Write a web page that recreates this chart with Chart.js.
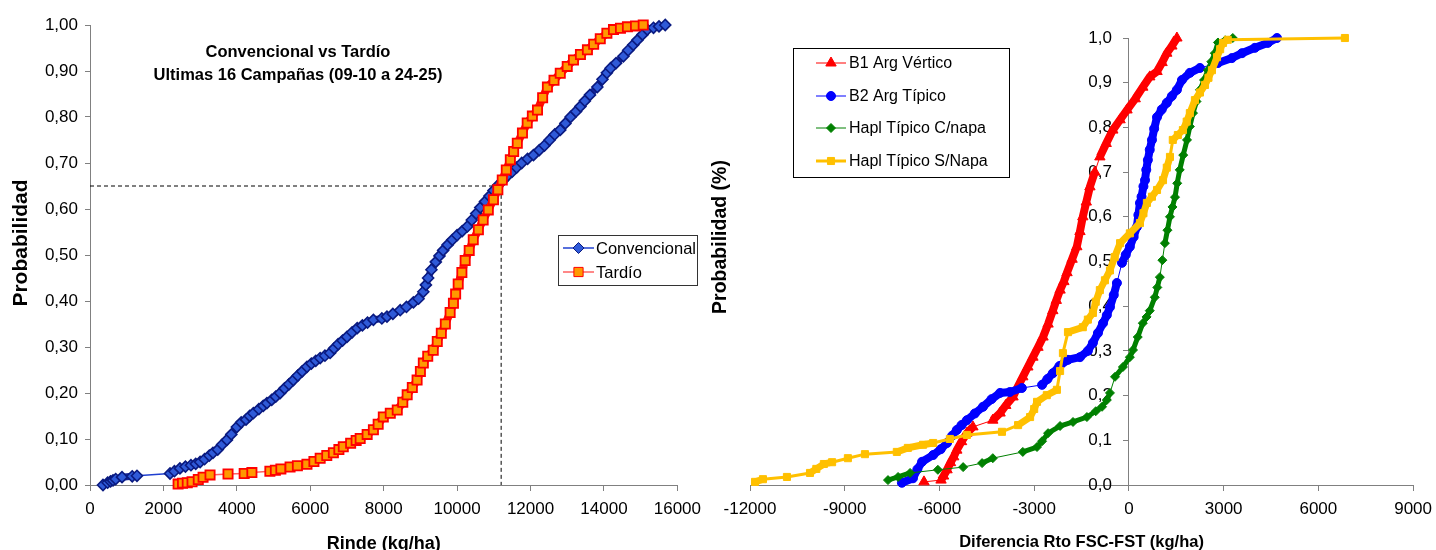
<!DOCTYPE html>
<html lang="es">
<head>
<meta charset="utf-8">
<title>Probabilidad acumulada de rinde</title>
<script src="https://cdn.jsdelivr.net/npm/chart.js@4.4.0/dist/chart.umd.min.js"></script>
<style>
  html, body { margin: 0; padding: 0; background: #fff; overflow: hidden; }
  canvas { position: absolute; top: 0; }
  #left { left: 0; }
  #right { left: 700px; }
</style>
</head>
<body>
<canvas id="left" width="709" height="560"></canvas>
<canvas id="right" width="740" height="560"></canvas>
<script>
// Left chart: rinde (kg/ha) vs probabilidad acumulada
const convencional = [
    [354, 0.000], [480, 0.005], [560, 0.008], [627, 0.010], [700, 0.013], [872, 0.017], [1150, 0.019], [1280, 0.020],
    [2180, 0.025], [2300, 0.030], [2450, 0.036], [2600, 0.040], [2750, 0.043], [2880, 0.046], [3000, 0.050], [3120, 0.056],
    [3250, 0.064], [3350, 0.070], [3480, 0.077], [3600, 0.088], [3730, 0.098], [3850, 0.110], [4000, 0.126], [4120, 0.136],
    [4250, 0.142], [4350, 0.150], [4450, 0.156], [4600, 0.165], [4720, 0.172], [4820, 0.178], [4950, 0.185], [5060, 0.192],
    [5180, 0.200], [5300, 0.210], [5420, 0.219], [5540, 0.228], [5660, 0.238], [5780, 0.247], [5910, 0.257], [6030, 0.264],
    [6150, 0.270], [6270, 0.276], [6400, 0.281], [6540, 0.287], [6650, 0.297], [6760, 0.306], [6880, 0.314], [7000, 0.322],
    [7140, 0.332], [7280, 0.341], [7420, 0.347], [7560, 0.353], [7720, 0.359], [7950, 0.362], [8090, 0.366], [8250, 0.372],
    [8450, 0.380], [8620, 0.387], [8810, 0.397], [8950, 0.405], [9080, 0.420], [9150, 0.435], [9210, 0.450], [9300, 0.468],
    [9420, 0.485], [9520, 0.498], [9620, 0.510], [9740, 0.522], [9870, 0.533], [10000, 0.543], [10140, 0.552], [10280, 0.562],
    [10400, 0.576], [10520, 0.590], [10630, 0.603], [10760, 0.616], [10880, 0.628], [10990, 0.640], [11120, 0.652], [11250, 0.662],
    [11370, 0.672], [11500, 0.681], [11620, 0.690], [11760, 0.700], [11920, 0.709], [12080, 0.717], [12240, 0.728], [12380, 0.738],
    [12520, 0.750], [12660, 0.762], [12810, 0.772], [12950, 0.786], [13090, 0.800], [13240, 0.812], [13360, 0.823], [13480, 0.835],
    [13620, 0.848], [13820, 0.865], [13960, 0.882], [14080, 0.896], [14180, 0.906], [14330, 0.917], [14530, 0.932], [14660, 0.945],
    [14800, 0.957], [14910, 0.967], [15050, 0.979], [15180, 0.990], [15350, 0.994], [15500, 0.997], [15670, 1.000]
];
const tardio = [
    [2400, 0.002], [2520, 0.004], [2650, 0.005], [2780, 0.007], [2950, 0.012], [3080, 0.017], [3270, 0.022], [3760, 0.024],
    [4200, 0.025], [4410, 0.027], [4900, 0.030], [5050, 0.032], [5200, 0.035], [5450, 0.039], [5650, 0.042], [5910, 0.045],
    [6100, 0.051], [6270, 0.058], [6450, 0.064], [6630, 0.070], [6780, 0.077], [6900, 0.083], [7100, 0.091], [7250, 0.097],
    [7360, 0.101], [7550, 0.110], [7720, 0.120], [7850, 0.132], [7990, 0.148], [8180, 0.156], [8370, 0.163], [8520, 0.180],
    [8640, 0.196], [8780, 0.212], [8910, 0.228], [9000, 0.247], [9080, 0.265], [9200, 0.280], [9350, 0.293], [9460, 0.312],
    [9570, 0.330], [9680, 0.350], [9810, 0.375], [9900, 0.395], [9960, 0.415], [10030, 0.437], [10130, 0.462], [10220, 0.488],
    [10330, 0.510], [10440, 0.533], [10580, 0.555], [10710, 0.576], [10850, 0.598], [10990, 0.620], [11110, 0.642], [11230, 0.663],
    [11340, 0.685], [11450, 0.707], [11540, 0.725], [11640, 0.743], [11780, 0.765], [11910, 0.787], [12050, 0.802], [12190, 0.815],
    [12330, 0.842], [12460, 0.865], [12640, 0.880], [12810, 0.895], [13000, 0.910], [13170, 0.924], [13360, 0.936], [13550, 0.946],
    [13720, 0.958], [13900, 0.970], [14080, 0.982], [14260, 0.990], [14450, 0.993], [14640, 0.996], [14860, 0.998], [15070, 1.000]
];
// dashed guide: 0,65 de probabilidad a ~11200 kg/ha
const corte = [[0, 0.65], [11200, 0.65], [11200, 0]];

// Right chart: diferencia de rinde FSC-FST por suelo
const b1ArgVertico = [
    [-6490, 0.007], [-5950, 0.011], [-5870, 0.020], [-5760, 0.034], [-5650, 0.050], [-5550, 0.063], [-5450, 0.078], [-5300, 0.097],
    [-5130, 0.116], [-4940, 0.130], [-4310, 0.145], [-4080, 0.161], [-3900, 0.178], [-3670, 0.197], [-3520, 0.220], [-3360, 0.242],
    [-3200, 0.264], [-3040, 0.286], [-2880, 0.308], [-2720, 0.331], [-2560, 0.360], [-2410, 0.390], [-2300, 0.413], [-2180, 0.436],
    [-2060, 0.455], [-1960, 0.475], [-1800, 0.505], [-1650, 0.533], [-1550, 0.567], [-1460, 0.600], [-1350, 0.633], [-1235, 0.667],
    [-1080, 0.700], [-920, 0.734], [-720, 0.764], [-510, 0.794], [-280, 0.817], [-60, 0.839], [200, 0.864], [440, 0.890],
    [660, 0.913], [890, 0.925], [1050, 0.945], [1200, 0.966], [1360, 0.982], [1520, 1.000]
];
const b2ArgTipico = [
    [-7190, 0.005], [-6840, 0.015], [-6700, 0.035], [-6550, 0.052], [-6200, 0.067], [-5960, 0.080], [-5760, 0.094], [-5600, 0.110],
    [-5450, 0.123], [-5300, 0.134], [-5130, 0.145], [-4880, 0.160], [-4620, 0.175], [-4350, 0.192], [-4080, 0.206], [-3770, 0.208],
    [-3390, 0.217], [-2750, 0.224], [-2580, 0.237], [-2410, 0.250], [-2200, 0.266], [-1930, 0.280], [-1550, 0.286], [-1300, 0.300],
    [-1140, 0.318], [-980, 0.340], [-820, 0.362], [-700, 0.380], [-600, 0.398], [-480, 0.425], [-380, 0.452], [-220, 0.497],
    [-100, 0.515], [30, 0.533], [150, 0.555], [250, 0.577], [300, 0.604], [350, 0.631], [400, 0.645], [460, 0.668],
    [510, 0.682], [550, 0.705], [600, 0.727], [660, 0.750], [730, 0.772], [800, 0.797], [890, 0.823], [1040, 0.840],
    [1200, 0.855], [1360, 0.870], [1520, 0.884], [1680, 0.906], [1930, 0.922], [2250, 0.933], [2820, 0.944], [3260, 0.955],
    [3580, 0.966], [3990, 0.978], [4400, 0.989], [4690, 1.000]
];
const haplConNapa = [
    [-7630, 0.011], [-7310, 0.018], [-6930, 0.027], [-6050, 0.034], [-5250, 0.040], [-4650, 0.049], [-4310, 0.060], [-3360, 0.074],
    [-2910, 0.085], [-2750, 0.098], [-2560, 0.116], [-2180, 0.132], [-1770, 0.141], [-1330, 0.152], [-1050, 0.165], [-850, 0.175],
    [-700, 0.190], [-600, 0.206], [-440, 0.242], [-190, 0.264], [30, 0.286], [130, 0.302], [280, 0.331], [440, 0.362],
    [560, 0.376], [660, 0.390], [820, 0.420], [900, 0.442], [980, 0.465], [1060, 0.503], [1140, 0.541], [1220, 0.570],
    [1300, 0.600], [1380, 0.622], [1460, 0.644], [1530, 0.675], [1610, 0.705], [1720, 0.738], [1840, 0.772], [1930, 0.802],
    [2030, 0.832], [2140, 0.858], [2250, 0.884], [2380, 0.906], [2500, 0.928], [2610, 0.947], [2720, 0.966], [2820, 0.990],
    [3050, 0.995], [3290, 1.000]
];
const haplSinNapa = [
    [-11840, 0.007], [-11590, 0.013], [-10830, 0.018], [-10100, 0.027], [-9900, 0.036], [-9660, 0.047], [-9400, 0.051], [-8900, 0.060],
    [-8360, 0.069], [-7350, 0.074], [-7000, 0.083], [-6520, 0.090], [-6200, 0.094], [-5670, 0.103], [-5130, 0.112], [-4020, 0.119],
    [-3510, 0.134], [-3130, 0.152], [-3000, 0.170], [-2910, 0.186], [-2600, 0.201], [-2280, 0.213], [-2180, 0.255], [-2090, 0.295],
    [-1930, 0.342], [-1460, 0.353], [-1300, 0.370], [-1140, 0.385], [-1050, 0.410], [-920, 0.436], [-760, 0.458], [-600, 0.480],
    [-450, 0.510], [-280, 0.541], [30, 0.563], [350, 0.586], [460, 0.608], [570, 0.631], [730, 0.645], [890, 0.660],
    [1080, 0.682], [1200, 0.710], [1300, 0.734], [1390, 0.772], [1550, 0.783], [1710, 0.794], [1830, 0.813], [1930, 0.832],
    [2090, 0.861], [2250, 0.878], [2410, 0.895], [2520, 0.911], [2630, 0.928], [2790, 0.957], [2890, 0.975], [2980, 0.989],
    [3130, 0.996], [6840, 1.000]
];

const FONT = "'Liberation Sans', Arial, sans-serif";
Chart.defaults.font.family = FONT;
Chart.defaults.font.size = 17;
Chart.defaults.color = '#000';
Chart.defaults.animation = false;

const toXY = (pairs) => pairs.map(([x, y]) => ({ x, y }));
const comma = (d) => (v) => v.toFixed(d).replace('.', ',');
const AXIS_GREY = '#808080';

// where markers crowd together Excel's series read as a solid band: thicken short segments
const band = (thick, thin, color, lineColor, gap = 15) => ({
    borderWidth: (c) => Math.hypot(c.p1.x - c.p0.x, c.p1.y - c.p0.y) < gap ? thick : thin,
    borderColor: (c) => Math.hypot(c.p1.x - c.p0.x, c.p1.y - c.p0.y) < gap ? color : lineColor
});

// free texts (titles, rotated y titles) drawn over the canvas
const textNotes = {
    id: 'textNotes',
    afterDraw(chart, args, opts) {
        const ctx = chart.ctx;
        (opts.items || []).forEach(t => {
            ctx.save();
            ctx.font = t.font;
            ctx.fillStyle = '#000';
            ctx.textAlign = 'center';
            ctx.textBaseline = 'middle';
            ctx.translate(t.x, t.y);
            if (t.rotate) ctx.rotate(t.rotate);
            ctx.fillText(t.text, 0, 0);
            ctx.restore();
        });
    }
};

// Excel-like boxed legend at a fixed place
const boxLegend = {
    id: 'boxLegend',
    afterDraw(chart, args, opts) {
        if (!opts.box) return;
        const ctx = chart.ctx;
        const [bx, by, bw, bh] = opts.box;
        ctx.save();
        ctx.fillStyle = '#fff';
        ctx.fillRect(bx, by, bw, bh);
        ctx.strokeStyle = opts.borderColor || '#000';
        ctx.lineWidth = 1;
        ctx.strokeRect(bx + 0.5, by + 0.5, bw, bh);

        const entries = chart.data.datasets.filter(ds => ds.label);
        entries.forEach((ds, i) => {
            const y = opts.rows[i];
            ctx.strokeStyle = ds.borderColor;
            ctx.lineWidth = ds.borderWidth;
            ctx.beginPath();
            ctx.moveTo(opts.line[0], y);
            ctx.lineTo(opts.line[1], y);
            ctx.stroke();

            ctx.fillStyle = ds.pointBackgroundColor;
            ctx.strokeStyle = ds.pointBorderColor;
            ctx.lineWidth = 1;
            const mx = (opts.line[0] + opts.line[1]) / 2;
            if (Chart.helpers && Chart.helpers.drawPoint) {
                Chart.helpers.drawPoint(ctx, {
                    pointStyle: ds.pointStyle, radius: ds.pointRadius, rotation: 0, borderWidth: 1
                }, mx, y);
            } else {
                ctx.fillRect(mx - 4, y - 4, 8, 8);
            }

            ctx.fillStyle = '#000';
            ctx.font = opts.font;
            ctx.textAlign = 'left';
            ctx.textBaseline = 'middle';
            ctx.fillText(ds.label, opts.textX, y + 1);
        });
        ctx.restore();
    }
};

function baseScale(min, max, step, fmt, tickPad) {
    return {
        type: 'linear',
        min, max,
        ticks: { stepSize: step, padding: tickPad, callback: fmt, color: '#000', font: { size: 17 } },
        grid: { drawOnChartArea: false, drawTicks: true, tickLength: 6, tickColor: AXIS_GREY, tickWidth: 1 },
        border: { display: true, color: AXIS_GREY, width: 1 }
    };
}

// ---------- left chart ----------
const leftX = baseScale(0, 16000, 2000, v => String(v), 8);
leftX.title = { display: true, text: 'Rinde (kg/ha)', font: { size: 18, weight: 'bold' }, padding: { top: 0, bottom: 5 } };
leftX.afterFit = (s) => { s.height = 75; };
const leftY = baseScale(0, 1, 0.1, comma(2), 7);
leftY.grid.tickLength = 5;
leftY.afterFit = (s) => { s.width = 90; };

new Chart(document.getElementById('left'), {
    type: 'scatter',
    data: {
        datasets: [
            {
                label: 'Convencional', data: toXY(convencional), showLine: true,
                borderColor: '#2040D0', borderWidth: 1.5,
                segment: band(7, 1.5, '#14239A', '#2040D0'),
                pointStyle: 'rectRot', pointRadius: 5.5,
                pointBackgroundColor: '#2F5AD8', pointBorderColor: '#0A1A80', pointBorderWidth: 1.6,
                order: 1, clip: false
            },
            {
                label: 'Tardío', data: toXY(tardio), showLine: true,
                borderColor: '#FF6060', borderWidth: 1.5,
                segment: band(8, 1.5, '#FF1A00', '#FF6060'),
                pointStyle: 'rect', pointRadius: 6.5,
                pointBackgroundColor: '#FF9900', pointBorderColor: '#FF0000', pointBorderWidth: 1.8,
                order: 0, clip: false
            },
            {
                data: toXY(corte), showLine: true,
                borderColor: '#000', borderWidth: 1, borderDash: [4, 3], pointRadius: 0,
                order: 2
            }
        ]
    },
    options: {
        responsive: false,
        layout: { padding: { left: 0, right: 23, top: 25, bottom: 0 } },
        plugins: {
            legend: { display: false },
            tooltip: { enabled: false },
            textNotes: {
                items: [
                    { text: 'Convencional vs Tardío', x: 298, y: 52, font: `bold 16.5px ${FONT}` },
                    { text: 'Ultimas 16 Campañas (09-10 a 24-25)', x: 298, y: 75, font: `bold 16.5px ${FONT}` },
                    { text: 'Probabilidad', x: 21, y: 243, rotate: -Math.PI / 2, font: `bold 21px ${FONT}` }
                ]
            },
            boxLegend: {
                box: [558, 235, 139, 50], borderColor: '#333', rows: [248, 272],
                line: [563, 594], textX: 596, font: `16.5px ${FONT}`
            }
        },
        scales: { x: leftX, y: leftY }
    },
    plugins: [textNotes, boxLegend]
});

// ---------- right chart ----------
const rightX = baseScale(-12000, 9000, 3000, v => String(v), 8);
rightX.title = { display: true, text: 'Diferencia Rto FSC-FST (kg/ha)', font: { size: 16.5, weight: 'bold' }, padding: { top: 0, bottom: 8 } };
rightX.afterFit = (s) => { s.height = 75; };
// axis sits on x = 0; Chart.js puts those labels flush to it, so keep an Excel-like gap with two en spaces
const rightY = baseScale(0, 1, 0.1, (v) => comma(1)(v) + '\u2002\u2002', 0);
rightY.position = { x: 0 };
rightY.grid.tickLength = 5;

new Chart(document.getElementById('right'), {
    type: 'scatter',
    data: {
        datasets: [
            {
                label: 'B1 Arg Vértico', data: toXY(b1ArgVertico), showLine: true,
                borderColor: '#FF0000', borderWidth: 1,
                segment: band(8, 1, '#FF0000', '#FF0000', 16),
                pointStyle: 'triangle', pointRadius: 6,
                pointBackgroundColor: '#FF0000', pointBorderColor: '#FF0000', pointBorderWidth: 1,
                order: 3, clip: false
            },
            {
                label: 'B2 Arg Típico', data: toXY(b2ArgTipico), showLine: true,
                borderColor: '#0000FF', borderWidth: 1,
                segment: band(8, 1, '#0000FF', '#0000FF', 16),
                pointStyle: 'circle', pointRadius: 4.5,
                pointBackgroundColor: '#0000FF', pointBorderColor: '#0000FF', pointBorderWidth: 1,
                order: 2, clip: false
            },
            {
                label: 'Hapl Típico C/napa', data: toXY(haplConNapa), showLine: true,
                borderColor: '#008000', borderWidth: 1,
                segment: band(5, 1, '#008000', '#008000', 16),
                pointStyle: 'rectRot', pointRadius: 4.5,
                pointBackgroundColor: '#008000', pointBorderColor: '#008000', pointBorderWidth: 1,
                order: 1, clip: false
            },
            {
                label: 'Hapl Típico S/Napa', data: toXY(haplSinNapa), showLine: true,
                borderColor: '#FFC000', borderWidth: 3,
                segment: band(7, 3, '#FFC000', '#FFC000', 16),
                pointStyle: 'rect', pointRadius: 5,
                pointBackgroundColor: '#FFC000', pointBorderColor: '#FFC000', pointBorderWidth: 1,
                order: 0, clip: false
            }
        ]
    },
    options: {
        responsive: false,
        layout: { padding: { left: 50, right: 23, top: 38, bottom: 0 } },
        plugins: {
            legend: { display: false },
            tooltip: { enabled: false },
            textNotes: {
                items: [
                    { text: 'Probabilidad (%)', x: 21, y: 237, rotate: -Math.PI / 2, font: `bold 19.5px ${FONT}` }
                ]
            },
            boxLegend: {
                box: [93, 48, 216, 129], borderColor: '#000', rows: [63, 96, 128, 161],
                line: [116, 146], textX: 149, font: `16px ${FONT}`
            }
        },
        scales: { x: rightX, y: rightY }
    },
    plugins: [textNotes, boxLegend]
});
</script>
</body>
</html>
